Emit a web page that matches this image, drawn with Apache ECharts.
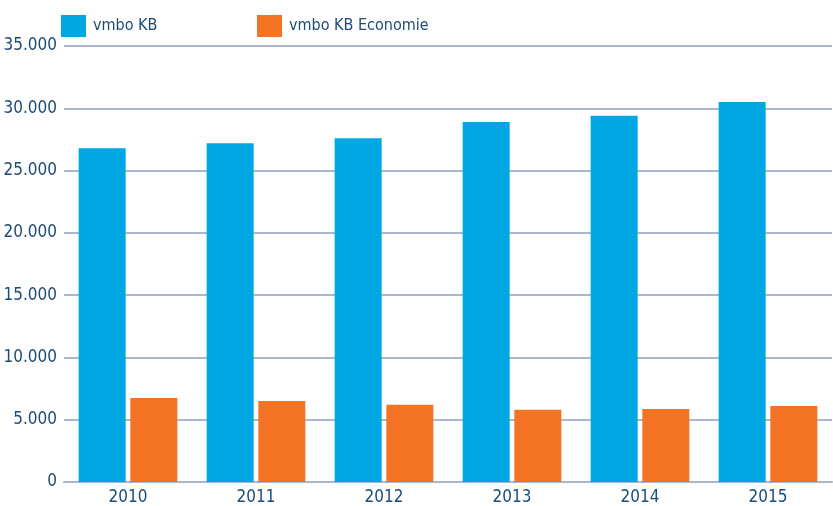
<!DOCTYPE html>
<html>
<head>
<meta charset="utf-8">
<script src="https://cdn.jsdelivr.net/npm/echarts@6/dist/echarts.min.js"></script>
<style>
	html, body { margin: 0; padding: 0; background: #fff; }
	#chart { width: 833px; height: 506px; }
</style>
</head>
<body>
<div id="chart"></div>
<script>
const years = ['2010', '2011', '2012', '2013', '2014', '2015']
const vmboKB = [26800, 27200, 27600, 28900, 29400, 30500]
const vmboKBEconomie = [6750, 6500, 6200, 5800, 5870, 6100]

const textColor = '#1d4b78'
const lineColor = '#a9b6d2'
const font = "'DejaVu Sans Condensed', 'Liberation Sans Narrow', sans-serif"

function dotThousands(v) {
	return String(v).replace(/\B(?=(\d{3})+(?!\d))/g, '.')
}

const legendBase = {
	top: 15,
	padding: 0,
	itemWidth: 25,
	itemHeight: 22,
	icon: 'rect',
	textStyle: { color: textColor, fontSize: 16, fontFamily: font, padding: [0, 0, 0, 2] }
}

const chart = echarts.init(document.getElementById('chart'))
chart.setOption({
	animation: false,
	textStyle: { fontFamily: font },
	legend: [
		Object.assign({ left: 61, data: ['vmbo KB'] }, legendBase),
		Object.assign({ left: 257, data: ['vmbo KB Economie'] }, legendBase)
	],
	grid: {
		top: 46,
		bottom: 24,
		left: 64,
		right: 1
	},
	xAxis: {
		type: 'category',
		data: years,
		axisTick: { show: false },
		axisLine: { lineStyle: { color: lineColor, width: 2 } },
		axisLabel: { color: textColor, fontSize: 17, margin: 7, fontFamily: font }
	},
	yAxis: {
		type: 'value',
		min: 0,
		max: 35000,
		interval: 5000,
		axisLine: { show: false },
		axisTick: { show: false },
		splitLine: { lineStyle: { color: lineColor, width: 2 } },
		axisLabel: {
			color: textColor,
			fontSize: 17,
			margin: 7,
			fontFamily: font,
			formatter: dotThousands
		}
	},
	series: [
		{
			name: 'vmbo KB',
			type: 'bar',
			barWidth: 47,
			barGap: '10%',
			itemStyle: { color: '#00a7e3' },
			data: vmboKB
		},
		{
			name: 'vmbo KB Economie',
			type: 'bar',
			barWidth: 47,
			barGap: '10%',
			itemStyle: { color: '#f37422' },
			data: vmboKBEconomie
		}
	]
})
</script>
</body>
</html>
